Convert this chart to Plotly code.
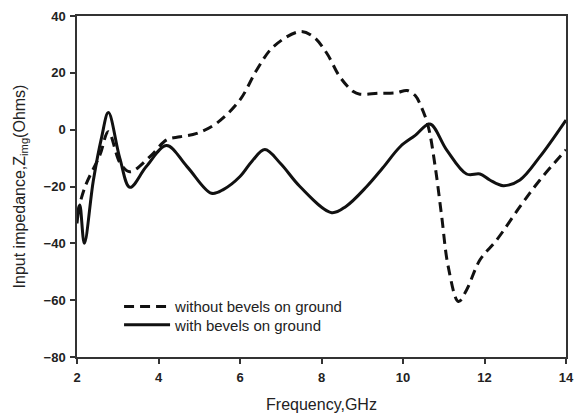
import plotly.graph_objects as go

# Imaginary input impedance vs frequency
freq_without = [2.0, 2.2, 2.56, 2.77, 3.06, 3.3, 3.79, 4.2, 4.53, 4.94, 5.43, 6.0, 6.41,
                6.82, 7.47, 7.8, 8.13, 8.45, 8.78, 8.94, 9.4, 9.84, 10.1, 10.3, 10.45,
                10.62, 10.79, 10.95, 11.11, 11.36, 11.56, 11.89, 12.3, 12.87, 13.36, 14.0]
zimg_without = [-30, -20, -9, -0.7, -11.8, -14.8, -9.5, -3.6, -2.5, -1.3, 2.3, 10.5, 21,
                29.2, 34.5, 32.7, 26.9, 18.6, 13.4, 12.5, 12.8, 13.0, 13.8, 12, 8,
                1.1, -13, -30.6, -48.2, -60.5, -56.4, -45.8, -38.8, -27.1, -17.7, -7.1]

freq_with = [2.0, 2.07, 2.18, 2.4, 2.6, 2.77, 3.05, 3.3, 3.7, 4.2, 4.7, 5.3, 5.6, 6.0,
             6.3, 6.61, 7.0, 7.47, 8.25, 8.6, 9.11, 9.5, 9.93, 10.3, 10.66, 11.07,
             11.56, 11.89, 12.13, 12.46, 12.87, 13.36, 14.0]
zimg_with = [-33, -26.5, -40, -18, -3, 6, -10, -20.3, -13, -5.6, -13, -22.4, -21, -16.5,
             -11, -7, -12, -20, -29.2, -27, -20, -13.5, -6, -2, 2, -7.1,
             -15.6, -15.6, -17.7, -19.7, -17.7, -9.5, 3.4]

x_ticks = [2, 4, 6, 8, 10, 12, 14]
y_ticks = [-80, -60, -40, -20, 0, 20, 40]

FONT = "Liberation Sans, Arial, sans-serif"
INK = "#111111"

fig = go.Figure()
fig.add_trace(go.Scatter(
    x=freq_without, y=zimg_without, mode="lines", name="without bevels on ground",
    line=dict(color=INK, width=3, dash="10px,6px", shape="spline", smoothing=1.0),
    legend="legend",
))
fig.add_trace(go.Scatter(
    x=freq_with, y=zimg_with, mode="lines", name="with bevels on ground",
    line=dict(color=INK, width=3, shape="spline", smoothing=1.0),
    legend="legend2",
))

axis_common = dict(
    showline=True, linecolor="#333333", linewidth=1.5, mirror=True,
    ticks="outside", ticklen=5, tickwidth=1.5, tickcolor="#333333",
    showgrid=False, zeroline=False, automargin=False,
    tickfont=dict(family=FONT, size=13, color="#222222", weight="bold"),
)

# one legend box per entry so the two rows sit close together
legend_common = dict(
    x=0.086, xanchor="left", yanchor="middle",
    bgcolor="rgba(0,0,0,0)",
    font=dict(family=FONT, size=15, color="#222222"),
    itemwidth=46,
)

fig.update_layout(
    width=575, height=413,
    margin=dict(l=77, r=9, t=16, b=56),
    paper_bgcolor="white", plot_bgcolor="white",
    showlegend=True,
    legend=dict(y=0.147, **legend_common),
    legend2=dict(y=0.094, **legend_common),
    xaxis=dict(
        range=[2, 14], tickvals=x_ticks, ticklabelstandoff=3,
        title=dict(text="Frequency,GHz", font=dict(family=FONT, size=16, color="#222222"), standoff=22),
        **axis_common,
    ),
    yaxis=dict(
        range=[-80, 40], tickvals=y_ticks, ticklabelstandoff=2,
        title=dict(text="Input impedance,Z<sub>img</sub>(Ohms)", font=dict(family=FONT, size=16, color="#222222"), standoff=14),
        **axis_common,
    ),
)

fig.write_html("out.html")
